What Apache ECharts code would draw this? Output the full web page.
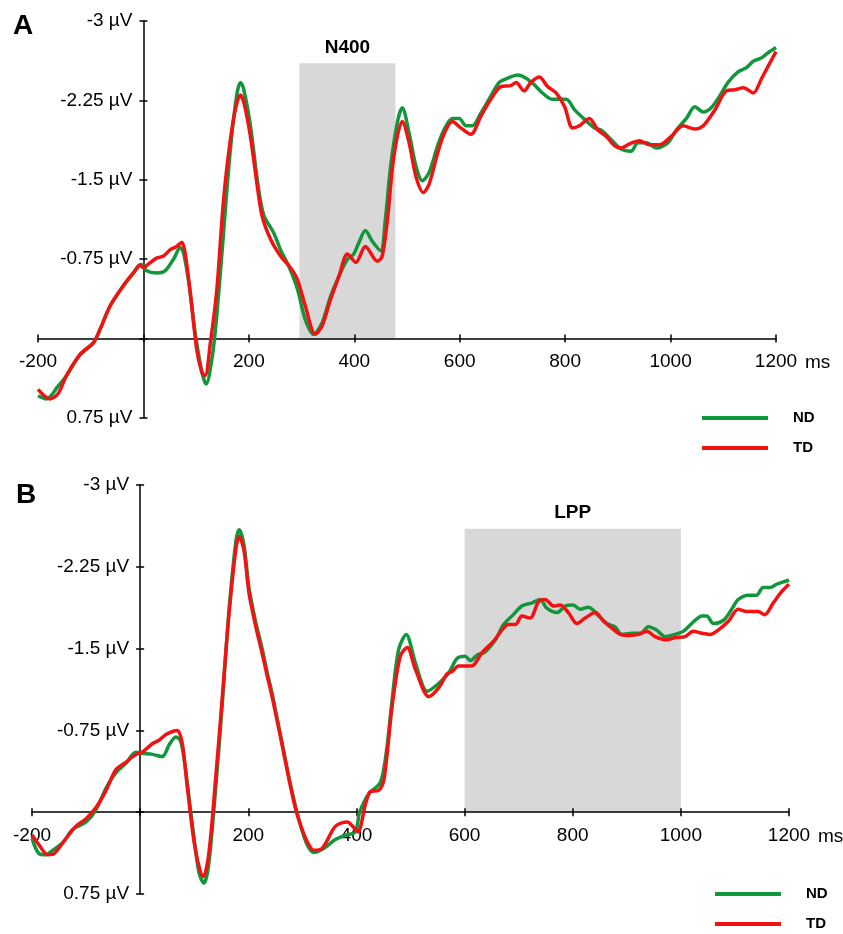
<!DOCTYPE html>
<html>
<head>
<meta charset="utf-8">
<script src="https://cdn.jsdelivr.net/npm/echarts@6/dist/echarts.min.js"></script>
<style>html,body{margin:0;padding:0;background:#fff}#c{width:843px;height:934px}</style>
</head>
<body>
<div id="c"></div>
<script>
// ---------- data ----------
const xTicks = [-200, 0, 200, 400, 600, 800, 1000, 1200];
const yTicks = [-3, -2.25, -1.5, -0.75, 0, 0.75];
const seriesNames = ['ND', 'TD'];

const aNdT = [-200,-184,-162,-146,-120,-95,-82,-63,-38,-19,-6,0,6,25,41,57,70,76,86,98,111,119,130,139,152,165,177,184,190,203,216,228,247,260,276,292,307,323,339,355,371,387,399,409,421,434,450,459,469,482,491,504,517,529,542,558,570,586,599,612,624,640,659,675,691,710,726,741,757,776,802,818,837,856,868,887,906,925,938,954,973,995,1011,1030,1046,1062,1077,1093,1109,1128,1144,1157,1172,1185,1200];
const aNdV = [0.54,0.57,0.45,0.35,0.15,0.04,-0.09,-0.31,-0.50,-0.62,-0.70,-0.69,-0.64,-0.62,-0.64,-0.75,-0.86,-0.81,-0.53,-0.06,0.32,0.43,0.19,-0.21,-1.0,-1.79,-2.30,-2.42,-2.36,-2.01,-1.50,-1.17,-1.0,-0.84,-0.68,-0.47,-0.18,-0.04,-0.15,-0.40,-0.59,-0.75,-0.80,-0.91,-1.02,-0.92,-0.83,-1.13,-1.63,-2.05,-2.18,-1.94,-1.63,-1.49,-1.57,-1.82,-1.97,-2.08,-2.08,-2.01,-2.01,-2.13,-2.29,-2.42,-2.46,-2.49,-2.46,-2.40,-2.32,-2.26,-2.26,-2.16,-2.07,-1.99,-1.97,-1.88,-1.79,-1.77,-1.85,-1.85,-1.80,-1.85,-1.97,-2.08,-2.19,-2.14,-2.18,-2.29,-2.42,-2.52,-2.56,-2.62,-2.65,-2.70,-2.75];

const aTdT = [-200,-177,-162,-146,-120,-95,-82,-63,-38,-19,-6,0,6,25,38,51,63,73,79,89,101,111,117,127,139,152,165,176,184,191,203,216,225,241,260,279,292,307,326,339,355,371,387,403,421,444,453,463,475,491,504,517,531,542,558,570,586,602,621,640,659,678,697,707,722,735,751,767,783,799,814,827,846,862,878,894,906,922,941,960,979,1001,1024,1046,1062,1084,1106,1122,1138,1157,1172,1188,1200];
const aTdV = [0.48,0.57,0.52,0.35,0.15,0.04,-0.09,-0.31,-0.50,-0.62,-0.69,-0.67,-0.69,-0.76,-0.78,-0.84,-0.87,-0.91,-0.81,-0.43,0.10,0.32,0.35,0.04,-0.45,-1.31,-1.88,-2.20,-2.30,-2.22,-1.91,-1.44,-1.16,-0.94,-0.78,-0.67,-0.56,-0.31,-0.04,-0.12,-0.37,-0.59,-0.80,-0.72,-0.87,-0.73,-0.78,-1.13,-1.72,-2.05,-1.85,-1.53,-1.38,-1.46,-1.75,-1.93,-2.05,-1.99,-1.93,-2.10,-2.26,-2.38,-2.39,-2.42,-2.34,-2.42,-2.47,-2.38,-2.32,-2.19,-1.99,-2.01,-2.08,-1.97,-1.91,-1.82,-1.80,-1.84,-1.87,-1.83,-1.83,-1.91,-2.01,-1.98,-2.01,-2.16,-2.34,-2.35,-2.37,-2.32,-2.45,-2.60,-2.71];

const bNdT = [-200,-187,-174,-162,-143,-125,-100,-82,-63,-45,-26,-8,4,23,41,54,66,75,84,97,109,118,127,140,152,164,177,183,192,201,213,226,235,244,255,266,277,288,299,310,321,340,361,380,398,406,423,444,455,466,478,492,509,531,552,571,586,601,611,623,638,657,672,688,706,725,740,752,771,786,801,814,829,848,863,878,891,909,925,940,955,971,989,1005,1020,1039,1048,1060,1079,1094,1106,1125,1140,1152,1165,1177,1195,1200];
const bNdV = [0.24,0.38,0.39,0.35,0.28,0.16,0.09,-0.02,-0.22,-0.36,-0.45,-0.55,-0.54,-0.53,-0.51,-0.62,-0.69,-0.65,-0.39,0.13,0.56,0.65,0.47,-0.24,-1.0,-1.83,-2.48,-2.59,-2.45,-2.07,-1.76,-1.49,-1.28,-1.09,-0.82,-0.55,-0.28,-0.04,0.16,0.31,0.37,0.33,0.25,0.21,0.18,0.0,-0.17,-0.27,-0.54,-1.03,-1.49,-1.63,-1.37,-1.11,-1.18,-1.28,-1.41,-1.43,-1.39,-1.44,-1.47,-1.58,-1.72,-1.80,-1.89,-1.92,-1.95,-1.87,-1.83,-1.89,-1.90,-1.86,-1.88,-1.80,-1.73,-1.70,-1.63,-1.64,-1.64,-1.70,-1.67,-1.61,-1.63,-1.66,-1.73,-1.80,-1.80,-1.73,-1.76,-1.86,-1.95,-1.99,-1.99,-2.06,-2.06,-2.09,-2.12,-2.13];

const bTdT = [-200,-187,-171,-159,-143,-119,-100,-82,-63,-45,-26,-8,4,23,35,47,60,69,78,87,100,112,117,127,140,152,164,177,183,192,201,213,226,235,244,255,266,277,288,299,310,321,337,361,383,395,403,417,426,441,451,466,481,494,509,534,552,568,577,589,608,617,632,654,669,681,694,706,721,737,749,765,777,792,808,823,842,857,872,888,906,922,937,952,974,989,1008,1023,1039,1054,1069,1088,1106,1122,1143,1155,1171,1186,1200];
const bTdV = [0.21,0.30,0.39,0.38,0.28,0.13,0.06,-0.04,-0.20,-0.39,-0.46,-0.53,-0.55,-0.63,-0.66,-0.71,-0.74,-0.75,-0.63,-0.24,0.28,0.56,0.59,0.38,-0.33,-1.06,-1.80,-2.41,-2.53,-2.40,-2.02,-1.72,-1.45,-1.25,-1.06,-0.80,-0.53,-0.26,-0.02,0.15,0.28,0.35,0.33,0.13,0.09,0.14,0.18,-0.08,-0.19,-0.20,-0.30,-0.97,-1.43,-1.51,-1.31,-1.06,-1.14,-1.27,-1.29,-1.34,-1.34,-1.35,-1.46,-1.57,-1.67,-1.72,-1.72,-1.80,-1.78,-1.93,-1.95,-1.89,-1.90,-1.83,-1.73,-1.78,-1.83,-1.75,-1.69,-1.63,-1.62,-1.63,-1.66,-1.61,-1.58,-1.60,-1.61,-1.66,-1.64,-1.63,-1.67,-1.75,-1.86,-1.84,-1.84,-1.81,-1.92,-2.02,-2.09];

// windows: [start ms, end ms, top µV, label]
const windowA = [296, 478, -2.6, 'N400'];
const windowB = [600, 1000, -2.6, 'LPP'];
const panelLabels = ['A', 'B'];

// ---------- layout / styles ----------
const FONT = 'Liberation Sans, Arial, Helvetica, sans-serif';
const GREEN = '#12963c';
const RED = '#f21212';
const W = 843;
const grids = [
  { left: 38, width: 738, top: 21, height: 397 },
  { left: 32, width: 757, top: 485, height: 409 }
];
const xMin = xTicks[0], xMax = xTicks[xTicks.length - 1];
const yMin = yTicks[0], yMax = yTicks[yTicks.length - 1];
const zip = (t, v) => t.map((x, i) => [x, v[i]]);

// axes are placed at the zero lines with offsets computed from the axis ranges
function xAxes(gi) {
  const g = grids[gi];
  const off = -g.height * (yMax - 0) / (yMax - yMin);
  const base = {
    type: 'value', gridIndex: gi, min: xMin, max: xMax, interval: 200, position: 'bottom', offset: off,
    splitLine: { show: false }, z: 1
  };
  return [
    Object.assign({}, base, {
      axisLine: { onZero: false, lineStyle: { color: '#000', width: 1.5 } },
      axisTick: { show: true, length: 4, lineStyle: { color: '#000', width: 1.5 } },
      axisLabel: { color: '#000', fontSize: 19, fontFamily: FONT, margin: 14,
        formatter: v => v === 0 ? '' : String(v) },
      name: 'ms', nameLocation: 'end', nameGap: 29,
      nameTextStyle: { color: '#000', fontSize: 19, fontFamily: FONT, verticalAlign: 'top', padding: [15, 0, 0, 0] }
    }),
    Object.assign({}, base, {
      axisLine: { show: false, onZero: false },
      axisTick: { show: true, inside: true, length: 4, lineStyle: { color: '#000', width: 1.5 } },
      axisLabel: { show: false }
    })
  ];
}
function yAxes(gi) {
  const g = grids[gi];
  const off = -g.width * (0 - xMin) / (xMax - xMin);
  const base = {
    type: 'value', gridIndex: gi, inverse: true, min: yMin, max: yMax, interval: 0.75, position: 'left', offset: off,
    splitLine: { show: false }, z: 1
  };
  return [
    Object.assign({}, base, {
      axisLine: { show: true, onZero: false, lineStyle: { color: '#000', width: 1.5 } },
      axisTick: { show: true, length: 4, lineStyle: { color: '#000', width: 1.5 } },
      axisLabel: { color: '#000', fontSize: 19, fontFamily: FONT, margin: 11,
        formatter: v => v === 0 ? '' : (v + ' µV') }
    }),
    Object.assign({}, base, {
      axisLine: { show: false, onZero: false },
      axisTick: { show: true, inside: true, length: 4, lineStyle: { color: '#000', width: 1.5 } },
      axisLabel: { show: false }
    })
  ];
}
function areaSeries(xi, yi, w) {
  return {
    type: 'line', xAxisIndex: xi, yAxisIndex: yi, data: [], z: 0, silent: true,
    markArea: {
      silent: true,
      itemStyle: { color: '#d8d8d8' },
      label: { show: true, position: 'top', distance: 6, color: '#000', fontWeight: 'bold', fontSize: 19, fontFamily: FONT },
      data: [[{ name: w[3], xAxis: w[0], yAxis: w[2] }, { xAxis: w[1], yAxis: 0 }]]
    }
  };
}
function lineSeries(name, color, xi, yi, t, v) {
  return {
    name, type: 'line', xAxisIndex: xi, yAxisIndex: yi, z: 2,
    data: zip(t, v), showSymbol: false, smooth: 0.3,
    lineStyle: { color, width: 3.5 }, itemStyle: { color }, color
  };
}
function legend(name, left, top) {
  return {
    data: [name], orient: 'vertical', left, top, padding: 0,
    icon: 'rect', itemWidth: 66, itemHeight: 4, selectedMode: false,
    formatter: n => '{t|' + n + '}',
    textStyle: { lineHeight: 16, rich: { t: { fontWeight: 'bold', fontSize: 15, lineHeight: 16, color: '#000', fontFamily: FONT, padding: [0, 0, 0, 20] } } }
  };
}

const option = {
  animation: false,
  backgroundColor: '#fff',
  title: [
    { text: panelLabels[0], left: 8, top: 7, textStyle: { fontSize: 28, fontWeight: 'bold', color: '#000', fontFamily: FONT } },
    { text: panelLabels[1], left: 11, top: 476, textStyle: { fontSize: 28, fontWeight: 'bold', color: '#000', fontFamily: FONT } }
  ],
  grid: grids.map(g => ({ left: g.left, right: W - g.left - g.width, top: g.top, height: g.height, outerBoundsMode: 'none', containLabel: false })),
  legend: [
    legend(seriesNames[0], 702, 410), legend(seriesNames[1], 702, 440),
    legend(seriesNames[0], 715, 886), legend(seriesNames[1], 715, 916)
  ],
  xAxis: [...xAxes(0), ...xAxes(1)],
  yAxis: [...yAxes(0), ...yAxes(1)],
  series: [
    areaSeries(0, 0, windowA),
    lineSeries(seriesNames[0], GREEN, 0, 0, aNdT, aNdV),
    lineSeries(seriesNames[1], RED, 0, 0, aTdT, aTdV),
    areaSeries(2, 2, windowB),
    lineSeries(seriesNames[0], GREEN, 2, 2, bNdT, bNdV),
    lineSeries(seriesNames[1], RED, 2, 2, bTdT, bTdV)
  ]
};
const chart = echarts.init(document.getElementById('c'), null, { renderer: 'canvas' });
chart.setOption(option);
</script>
</body>
</html>
